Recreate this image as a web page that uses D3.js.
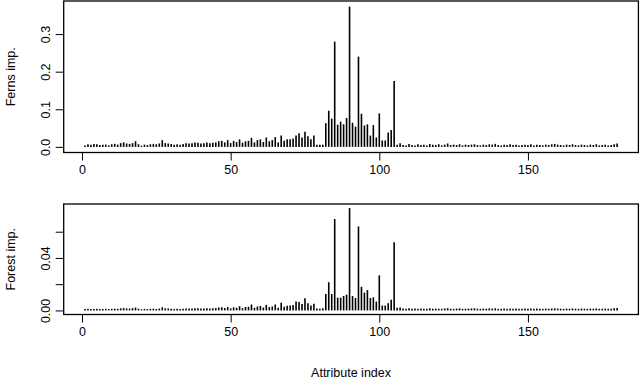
<!DOCTYPE html>
<html>
<head>
<meta charset="utf-8">
<script src="https://cdn.jsdelivr.net/npm/d3@7"></script>
<style>
	body { margin: 0; background: #fff; }
	svg { display: block; font-family: 'Liberation Sans', Arial, sans-serif; }
	.tick text { font-size: 12.5px; fill: #000; }
	.tick line { stroke: #000; }
</style>
</head>
<body>
<div id="chart"></div>
<script>
// attribute importance, one value per attribute (1..180)
var ferns = [
	0.004, 0.007, 0.006, 0.008, 0.007, 0.005, 0.006, 0.006, 0.004, 0.007,
	0.008, 0.006, 0.010, 0.012, 0.009, 0.008, 0.010, 0.015, 0.007, 0.003,
	0.006, 0.005, 0.007, 0.008, 0.007, 0.009, 0.018, 0.010, 0.009, 0.008,
	0.006, 0.007, 0.006, 0.008, 0.010, 0.009, 0.010, 0.012, 0.011, 0.009,
	0.010, 0.012, 0.010, 0.011, 0.012, 0.015, 0.016, 0.012, 0.018, 0.010,
	0.016, 0.013, 0.020, 0.011, 0.015, 0.016, 0.024, 0.012, 0.018, 0.020,
	0.013, 0.025, 0.015, 0.018, 0.026, 0.012, 0.030, 0.016, 0.020, 0.020,
	0.022, 0.030, 0.036, 0.025, 0.040, 0.028, 0.020, 0.030, 0.006, 0.006,
	0.006, 0.063, 0.096, 0.075, 0.280, 0.059, 0.067, 0.060, 0.077, 0.373,
	0.064, 0.054, 0.240, 0.088, 0.057, 0.060, 0.030, 0.058, 0.025, 0.089,
	0.017, 0.017, 0.038, 0.045, 0.175, 0.006, 0.010, 0.005, 0.004, 0.008,
	0.005, 0.004, 0.007, 0.005, 0.006, 0.004, 0.008, 0.006, 0.005, 0.007,
	0.004, 0.006, 0.009, 0.005, 0.006, 0.005, 0.007, 0.004, 0.006, 0.005,
	0.006, 0.007, 0.005, 0.004, 0.006, 0.005, 0.007, 0.006, 0.008, 0.005,
	0.004, 0.006, 0.005, 0.007, 0.005, 0.006, 0.004, 0.005, 0.006, 0.005,
	0.007, 0.004, 0.006, 0.005, 0.004, 0.006, 0.005, 0.007, 0.008, 0.006,
	0.005, 0.004, 0.006, 0.005, 0.007, 0.005, 0.004, 0.006, 0.005, 0.004,
	0.006, 0.005, 0.007, 0.004, 0.005, 0.006, 0.004, 0.005, 0.007, 0.009
];

var forest = [
	0.0010, 0.0012, 0.0010, 0.0011, 0.0012, 0.0010, 0.0011, 0.0013, 0.0010, 0.0012,
	0.0013, 0.0012, 0.0016, 0.0018, 0.0015, 0.0014, 0.0017, 0.0022, 0.0013, 0.0008,
	0.0011, 0.0010, 0.0012, 0.0013, 0.0011, 0.0014, 0.0024, 0.0016, 0.0015, 0.0013,
	0.0011, 0.0012, 0.0010, 0.0013, 0.0015, 0.0014, 0.0015, 0.0017, 0.0016, 0.0014,
	0.0015, 0.0017, 0.0015, 0.0016, 0.0018, 0.0022, 0.0024, 0.0018, 0.0026, 0.0015,
	0.0024, 0.0020, 0.0032, 0.0017, 0.0026, 0.0028, 0.0045, 0.0020, 0.0030, 0.0034,
	0.0022, 0.0042, 0.0025, 0.0030, 0.0045, 0.0020, 0.0058, 0.0028, 0.0035, 0.0038,
	0.0042, 0.0067, 0.0065, 0.0048, 0.0093, 0.0055, 0.0038, 0.0050, 0.0015, 0.0012,
	0.0017, 0.0125, 0.0215, 0.0125, 0.0697, 0.0097, 0.0097, 0.0110, 0.0120, 0.0780,
	0.0110, 0.0095, 0.0640, 0.0180, 0.0135, 0.0155, 0.0095, 0.0100, 0.0067, 0.0267,
	0.0037, 0.0037, 0.0055, 0.0082, 0.0520, 0.0020, 0.0022, 0.0015, 0.0013, 0.0016,
	0.0012, 0.0014, 0.0013, 0.0015, 0.0012, 0.0013, 0.0016, 0.0012, 0.0014, 0.0013,
	0.0012, 0.0015, 0.0017, 0.0013, 0.0012, 0.0014, 0.0016, 0.0012, 0.0013, 0.0014,
	0.0015, 0.0016, 0.0013, 0.0012, 0.0014, 0.0013, 0.0015, 0.0014, 0.0016, 0.0012,
	0.0013, 0.0014, 0.0012, 0.0015, 0.0013, 0.0014, 0.0012, 0.0013, 0.0014, 0.0013,
	0.0015, 0.0012, 0.0014, 0.0013, 0.0012, 0.0014, 0.0013, 0.0015, 0.0016, 0.0014,
	0.0013, 0.0012, 0.0014, 0.0013, 0.0015, 0.0013, 0.0012, 0.0014, 0.0013, 0.0012,
	0.0014, 0.0013, 0.0015, 0.0012, 0.0013, 0.0014, 0.0012, 0.0013, 0.0016, 0.0019
];

var xTicks = [0, 50, 100, 150];
var fernsTicks = [0, 0.1, 0.2, 0.3];
var forestTicks = [0, 0.02, 0.04, 0.06];
var forestLabels = ['0.00', '', '0.04', ''];

var width = 640, height = 379;
var left = 63.7, right = 638.4;

var svg = d3.select('#chart').append('svg')
	.attr('width', width)
	.attr('height', height);

// R style: pad the data range by 4% on each side
function padded(lo, hi) {
	var d = (hi - lo) * 0.04;
	return [lo - d, hi + d];
}

var x = d3.scaleLinear()
	.domain(padded(1, ferns.length))
	.range([left, right]);

function panel(values, top, bottom, ticks, labels, title) {
	var y = d3.scaleLinear()
		.domain(padded(0, d3.max(values)))
		.range([bottom, top]);

	var g = svg.append('g');

	g.selectAll('line.bar')
		.data(values)
		.enter().append('line')
		.attr('class', 'bar')
		.attr('x1', function(d, i) { return x(i + 1); })
		.attr('x2', function(d, i) { return x(i + 1); })
		.attr('y1', y(0))
		.attr('y2', function(d) { return y(d); })
		.attr('stroke', '#000')
		.attr('stroke-width', 1.6);

	var xAxis = g.append('g')
		.attr('transform', 'translate(0,' + bottom + ')')
		.call(d3.axisBottom(x).tickValues(xTicks).tickSize(8).tickPadding(5).tickSizeOuter(0));
	xAxis.select('.domain').remove();

	var yAxis = g.append('g')
		.attr('transform', 'translate(' + left + ',0)')
		.call(d3.axisLeft(y).tickValues(ticks).tickSize(8).tickSizeOuter(0)
			.tickFormat(function(d, i) { return labels[i]; }));
	yAxis.select('.domain').remove();
	yAxis.selectAll('.tick text')
		.attr('x', null)
		.attr('dy', null)
		.attr('text-anchor', 'middle')
		.attr('transform', 'translate(-13.5,0) rotate(-90)');

	g.append('rect')
		.attr('x', left)
		.attr('y', top)
		.attr('width', right - left)
		.attr('height', bottom - top)
		.attr('fill', 'none')
		.attr('stroke', '#000')
		.attr('stroke-width', 1.3);

	g.append('text')
		.attr('transform', 'translate(15,' + ((top + bottom) / 2) + ') rotate(-90)')
		.attr('text-anchor', 'middle')
		.style('font-size', '12.5px')
		.text(title);
}

panel(ferns, 1, 152.5, fernsTicks, ['0.0', '0.1', '0.2', '0.3'], 'Ferns imp.');
panel(forest, 204, 314.5, forestTicks, forestLabels, 'Forest imp.');

svg.append('text')
	.attr('x', (left + right) / 2)
	.attr('y', 377)
	.attr('text-anchor', 'middle')
	.style('font-size', '12.5px')
	.text('Attribute index');
</script>
</body>
</html>
